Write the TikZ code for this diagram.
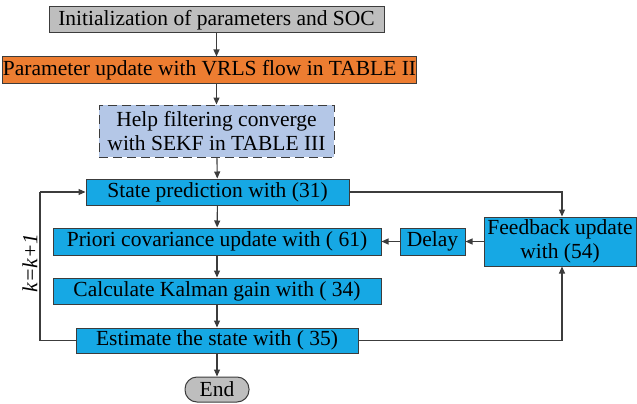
\documentclass[tikz,border=0pt]{standalone}
\usepackage{fontspec}
\setmainfont{Liberation Serif}
\usetikzlibrary{arrows.meta}
\definecolor{boxblue}{RGB}{22,168,228}
\definecolor{boxorange}{RGB}{237,125,49}
\definecolor{boxgray}{RGB}{190,190,190}
\definecolor{boxlight}{RGB}{180,199,231}
\definecolor{edgegray}{RGB}{60,60,60}

\begin{document}
\begin{tikzpicture}[x=1pt,y=-1pt,
  font=\fontsize{21.5}{23}\selectfont,
  box/.style={draw=edgegray, line width=1pt, inner sep=0pt, align=center},
  bluebox/.style={box, fill=boxblue},
  flow/.style={draw=edgegray, line width=1.1pt, -{Triangle[length=7pt,width=6pt]}},
  wire/.style={draw=edgegray, line width=1.1pt}]
\useasboundingbox (0,0) rectangle (637,404);

\node[box, fill=boxgray, minimum width=335pt, minimum height=26pt] (init) at (216.5,20) {Initialization of parameters and SOC};
\node[box, fill=boxorange, minimum width=413pt, minimum height=26pt] (vrls) at (209.5,70) {Parameter update with VRLS flow in TABLE II};
\node[box, fill=boxlight, dashed, dash pattern=on 9pt off 5pt, minimum width=235pt, minimum height=52pt, font=\fontsize{21.5}{24}\selectfont] (sekf) at (216.5,131) {Help filtering converge\\with SEKF in TABLE III};
\node[bluebox, minimum width=263pt, minimum height=26pt] (pred) at (217.5,192) {State prediction with (31)};
\node[bluebox, minimum width=328pt, minimum height=27pt] (prior) at (217,241.5) {Priori covariance update with ( 61)};
\node[bluebox, minimum width=328pt, minimum height=26pt] (gain) at (217,291) {Calculate Kalman gain with ( 34)};
\node[bluebox, minimum width=282pt, minimum height=25pt] (est) at (217,340.5) {Estimate the state with ( 35)};
\node[box, fill=boxgray, rounded corners=12pt, minimum width=64pt, minimum height=25pt] (end) at (217,389.5) {End};
\node[bluebox, minimum width=65pt, minimum height=27pt] (delay) at (432.5,241.5) {Delay};
\node[bluebox, minimum width=152pt, minimum height=49pt, font=\fontsize{21.5}{24}\selectfont] (fb) at (560,241.5) {Feedback update\\with (54)};

\coordinate (loopbot) at (40,340.5);
\coordinate (looptop) at (40,192);
\coordinate (fbtop) at (562,192);
\coordinate (fbbot) at (562,340.5);

% main chain
\draw[flow] (init.south) -- (init.south |- vrls.north);
\draw[flow] (init.south |- vrls.south) -- (sekf.north);
\draw[flow] (sekf) -- (pred);
\draw[flow] (pred) -- (prior);
\draw[flow] (prior) -- (gain);
\draw[flow] (gain) -- (est);
\draw[flow] (est) -- (end);

% loop back
\draw[wire] (est.west) -- (loopbot) -- (looptop);
\draw[flow] (looptop) -- (pred.west);
\node[rotate=90, font=\fontsize{21.5}{23}\selectfont\itshape] (kinc) at (30,263) {k=k+1};

% feedback branch
\draw[flow] (pred.east) -- (fbtop) -- (fb.north -| fbtop);
\draw[flow] (est.east) -- (fbbot) -- (fb.south -| fbbot);
\draw[flow] (fb) -- (delay);
\draw[flow] (delay) -- (prior);
\end{tikzpicture}
\end{document}
